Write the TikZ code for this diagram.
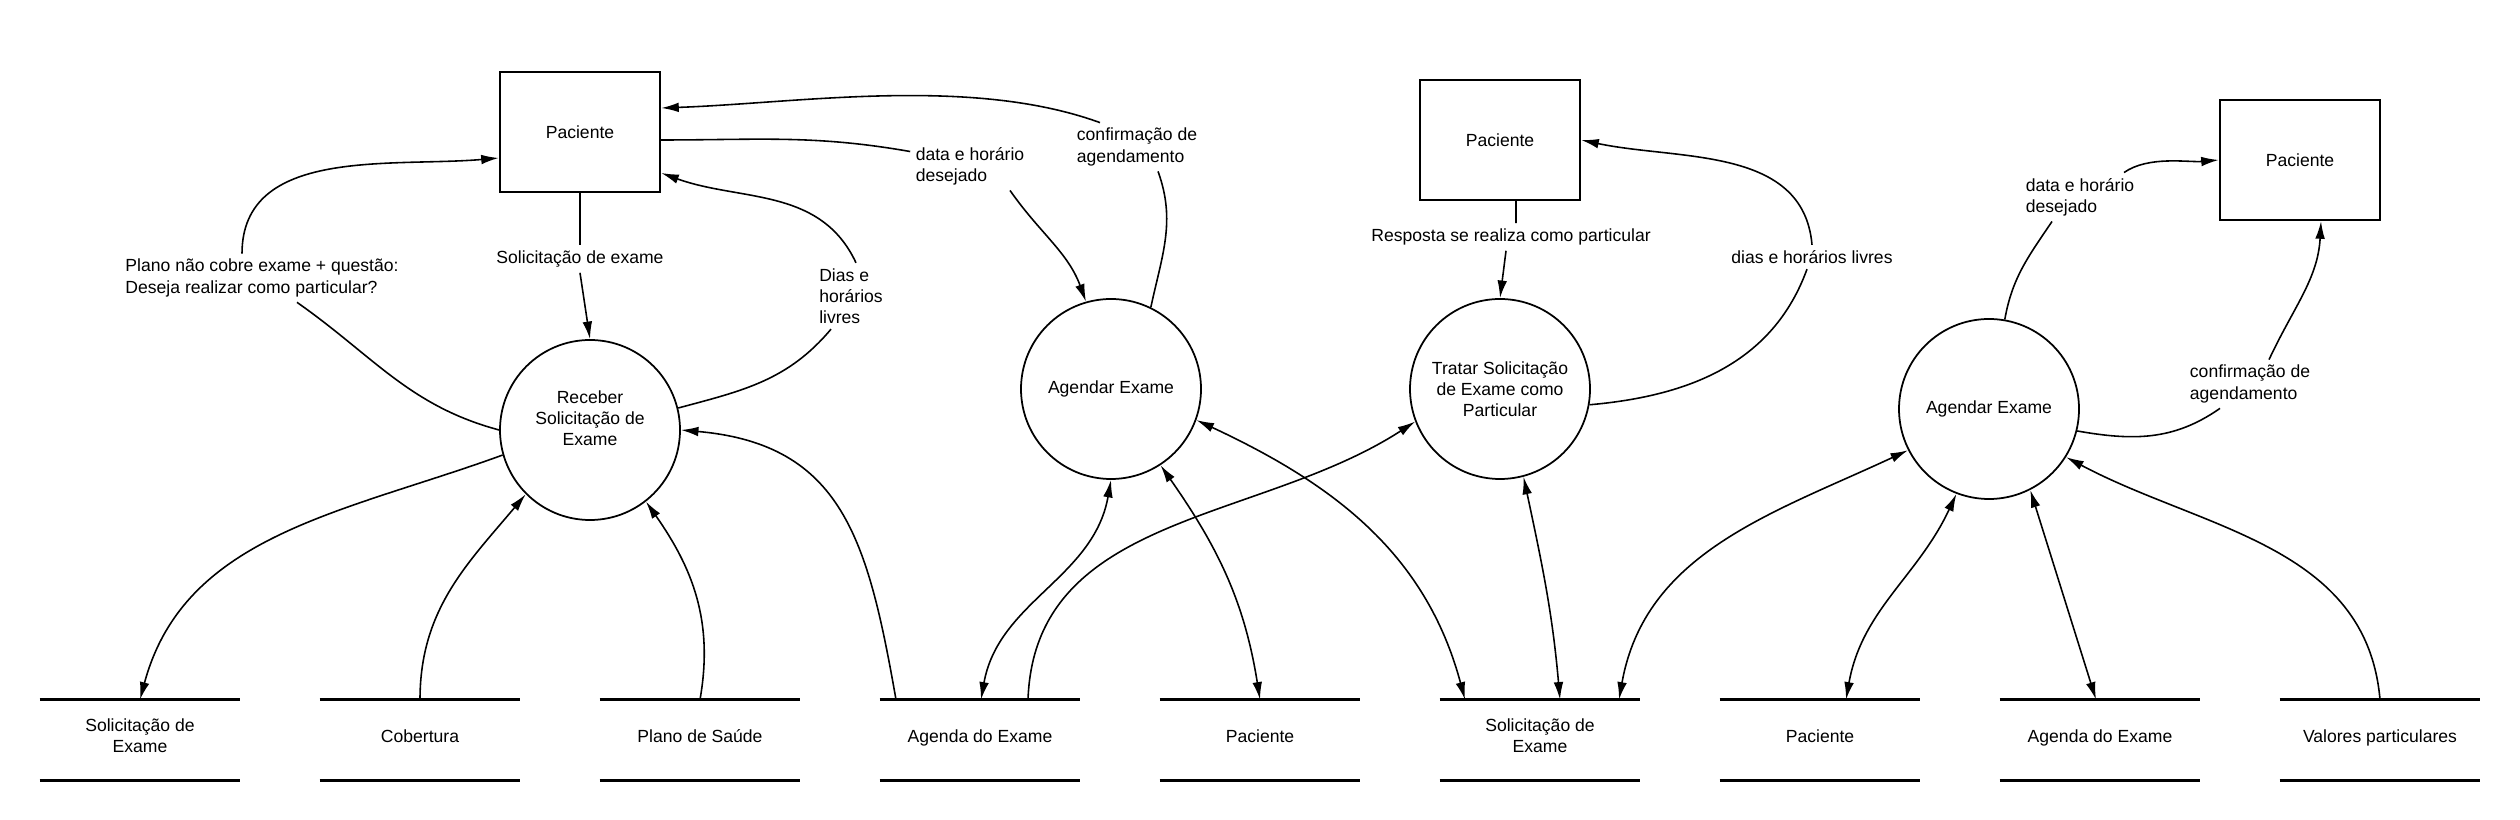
\documentclass[tikz,border=0pt]{standalone}
\usepackage{fontspec}
\setmainfont{Liberation Sans}
\usetikzlibrary{arrows.meta, positioning, calc}

\tikzset{
  entity/.style={draw, line width=1.4pt, minimum width=3.2cm, minimum height=2.4cm},
  process/.style={draw, circle, line width=1pt, minimum size=3.6cm, align=center, inner sep=1pt},
  store/.style={minimum width=4cm, minimum height=1.6cm, inner sep=0pt, align=center, text depth=4.5pt},
  storeline/.style={line width=1.8pt},
  lbl/.style={align=left, inner sep=3pt},
  link/.style={line width=0.9pt},
  flow/.style={link, -{Latex[length=10pt,width=5.5pt]}},
  biflow/.style={link, {Latex[length=10pt,width=5.5pt]}-{Latex[length=10pt,width=5.5pt]}},
}

\begin{document}
\begin{tikzpicture}[font=\fontsize{10}{12}\selectfont]
\useasboundingbox (0,0) rectangle (50.4,16.4);

% Entities
\node[entity] (pac1) at (11.6,13.76) {Paciente};
\node[entity] (pac2) at (30,13.6) {Paciente};
\node[entity] (pac3) at (46,13.2) {Paciente};

% Processes
\node[process, text depth=0.48cm] (recv) at (11.8,7.8) {Receber\\Solicitação de\\Exame};
\node[process] (agd1) at (22.22,8.62) {Agendar Exame};
\node[process] (trat) at (30,8.62) {Tratar Solicitação\\de Exame como\\Particular};
\node[process] (agd2) at (39.78,8.22) {Agendar Exame};

% Data stores
\foreach \i/\x/\t in {1/2.8/{Solicitação de\\Exame}, 2/8.4/Cobertura, 3/14/Plano de Saúde,
    4/19.6/Agenda do Exame, 5/25.2/Paciente, 6/30.8/{Solicitação de\\Exame},
    7/36.4/Paciente, 8/42/Agenda do Exame, 9/47.6/Valores particulares} {
  \node[store] (s\i) at (\x,1.6) {\t};
  \draw[storeline] (s\i.north west) -- (s\i.north east) (s\i.south west) -- (s\i.south east);
}

% Flow labels
\node[lbl] (lSol) at (11.6,11.22) {Solicitação de exame};
\node[lbl] (lPlano) at (5.24,10.84) {Plano não cobre exame + questão:\\Deseja realizar como particular?};
\node[lbl] (lDias) at (17.02,10.48) {Dias e\\horários\\livres};
\node[lbl] (lData1) at (19.4,13.08) {data e horário\\desejado};
\node[lbl] (lConf1) at (22.74,13.46) {confirmação de\\agendamento};
\node[lbl] (lResp) at (30.22,11.66) {Resposta se realiza como particular};
\node[lbl] (lDias2) at (36.24,11.26) {dias e horários livres};
\node[lbl] (lData2) at (41.6,12.46) {data e horário\\desejado};
\node[lbl] (lConf2) at (45,8.72) {confirmação de\\agendamento};

% Receber Solicitacao de Exame
\draw[link] (pac1.south) -- (lSol.north);
\draw[flow] (lSol.south) -- (recv.north);
\draw[link] (recv.west) to[out=165, in=-35] ([xshift=0.7cm]lPlano.south);
\draw[flow] ([xshift=-0.4cm]lPlano.north) to[out=90, in=185] ([yshift=-0.52cm]pac1.west);
\draw[link] (recv.14) to[out=15, in=-130] ([xshift=-0.4cm]lDias.south);
\draw[flow] ([xshift=0.1cm]lDias.north) to[out=115, in=-20] ([yshift=-0.82cm]pac1.east);
\draw[flow] ([xshift=-1.68cm]s4.north) to[out=100, in=-5, looseness=1.2] (recv.east);
\draw[flow] (recv.-164) to[out=200, in=75] (s1.north);
\draw[flow] (s2.north) to[out=90, in=-130] (recv.-135);
\draw[flow] (s3.north) to[out=80, in=-55] (recv.-52);

% Agendar Exame (middle)
\draw[link] ([yshift=-0.16cm]pac1.east) to[out=0, in=170] ([yshift=-0.2cm]lData1.north west);
\draw[flow] ([xshift=0.8cm]lData1.south) to[out=-55, in=110] (agd1.106);
\draw[link] (agd1.64) to[out=78, in=-70] ([xshift=0.42cm]lConf1.south);
\draw[flow] ([xshift=-0.74cm]lConf1.north) to[out=160, in=2, looseness=0.8] ([yshift=0.48cm]pac1.east);
\draw[biflow] ([xshift=0.02cm]s4.north) to[out=80, in=-100] (agd1.south);
\draw[biflow] (agd1.-57) to[out=-55, in=99] (s5.north);
\draw[flow] ([xshift=0.96cm]s4.north) to[out=88, in=-147] (trat.-159);
\draw[biflow] (agd1.-20) to[out=-25, in=105] ([xshift=-1.5cm]s6.north);

% Tratar Solicitacao como Particular
\draw[link] ([xshift=0.32cm]pac2.south) -- ([xshift=0.1cm]lResp.north);
\draw[flow] ([xshift=-0.1cm]lResp.south) -- (trat.north);
\draw[link] (trat.-10) to[out=5, in=-110] ([xshift=-0.1cm]lDias2.south);
\draw[flow] (lDias2.north) to[out=95, in=-12] (pac2.east);
\draw[biflow] (trat.-75) to[out=-78, in=95] ([xshift=0.4cm]s6.north);

% Agendar Exame (right)
\draw[link] (agd2.80) to[out=80, in=-124] ([xshift=-0.56cm]lData2.south);
\draw[flow] ([xshift=0.88cm]lData2.north) to[out=35, in=185, looseness=0.8] (pac3.west);
\draw[link] (agd2.-14) to[out=-10, in=-145] ([xshift=-0.6cm]lConf2.south);
\draw[flow] ([xshift=0.38cm]lConf2.north) to[out=65, in=-93] ([xshift=0.42cm]pac3.south);
\draw[biflow] (agd2.-153) to[out=205, in=80] ([xshift=1.58cm]s6.north);
\draw[biflow] (agd2.-111) to[out=-115, in=80] ([xshift=0.52cm]s7.north);
\draw[biflow] (agd2.-63) -- ([xshift=-0.08cm]s8.north);
\draw[flow] (s9.north) to[out=95, in=-28] (agd2.-32);
\end{tikzpicture}
\end{document}
